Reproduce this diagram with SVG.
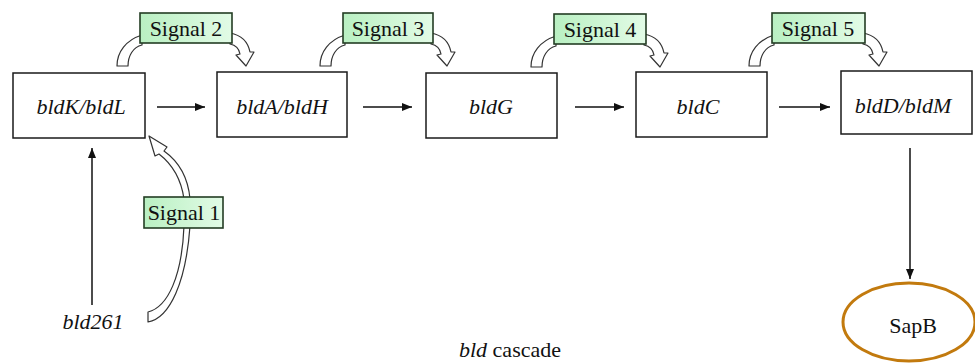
<svg xmlns="http://www.w3.org/2000/svg" xmlns:xlink="http://www.w3.org/1999/xlink" width="975" height="363" viewBox="0 0 975 363">
<style>
.box{fill:#fff;stroke:#1a1a1a;stroke-width:1.5}
.sig{fill:url(#sg);stroke:#243d24;stroke-width:1.6}
text{font-family:'Times New Roman','Liberation Serif',Tinos,'Noto Serif','DejaVu Serif',serif;font-size:22px;fill:#111}
.it{font-style:italic}
.band{fill:#fff;stroke:#333;stroke-width:1.2;stroke-linejoin:round}
.conn{stroke:#111;stroke-width:1.5;fill:none;marker-end:url(#ah)}
</style>
<defs>
<linearGradient id="sg" x1="0" y1="0" x2="1" y2="0">
<stop offset="0" stop-color="#b9f0c2"/>
<stop offset="1" stop-color="#e2fbe6"/>
</linearGradient>
<marker id="ah" viewBox="0 0 10 8" refX="10" refY="4" markerWidth="10" markerHeight="8" markerUnits="userSpaceOnUse" orient="auto">
<path d="M0,0 L10,4 L0,8 Z" fill="#111"/>
</marker>
<path id="tail" class="band" d="M-23,23 C-23,9 -14,-3 2,-8 L2,2 C-7,4 -12,13 -12,23 Z"/>
<path id="head" class="band" d="M-2,-10 C9,-8 16,-1 18,9 L22,9 L14,23 L4,12 L8,11 C7,5 3,2 -2,1 Z"/>
</defs>

<g id="connectors">
<line class="conn" x1="157" y1="107" x2="205" y2="107"/>
<line class="conn" x1="363" y1="107" x2="412" y2="107"/>
<line class="conn" x1="575" y1="107" x2="624" y2="107"/>
<line class="conn" x1="779" y1="107" x2="830" y2="107"/>
<line class="conn" x1="910" y1="148" x2="910" y2="279"/>
<line class="conn" x1="92" y1="305" x2="92" y2="148"/>
<use xlink:href="#tail" transform="translate(140,43)"/>
<use xlink:href="#head" transform="translate(232,43)"/>
<use xlink:href="#tail" transform="translate(343,43)"/>
<use xlink:href="#head" transform="translate(433,43)"/>
<use xlink:href="#tail" transform="translate(554,44)"/>
<use xlink:href="#head" transform="translate(646,44)"/>
<use xlink:href="#tail" transform="translate(772,43)"/>
<use xlink:href="#head" transform="translate(865,43)"/>
<path class="band" d="M148,322 C170,318 186,282 190,226 L184,226 C182,276 168,307 148,312 Z"/>
<path class="band" d="M190,199 C188,176 178,161 164,151 L167,147 L149,136 L155,156 L159,154 C172,164 181,178 184,199 Z"/>
</g>

<g id="bldKL"><rect class="box" x="13" y="73" width="132" height="65"/><text class="it" x="81" y="114" text-anchor="middle">bldK/bldL</text></g>
<g id="bldAH"><rect class="box" x="217" y="72" width="130" height="65"/><text class="it" x="282" y="114" text-anchor="middle">bldA/bldH</text></g>
<g id="bldG"><rect class="box" x="426" y="73" width="131" height="65"/><text class="it" x="491" y="114" text-anchor="middle">bldG</text></g>
<g id="bldC"><rect class="box" x="636" y="72" width="131" height="65"/><text class="it" x="698" y="114" text-anchor="middle">bldC</text></g>
<g id="bldDM"><rect class="box" x="841" y="71" width="131" height="63"/><text class="it" x="903" y="113" text-anchor="middle">bldD/bldM</text></g>

<g id="signal2"><rect class="sig" x="140" y="13" width="92" height="30"/><text x="186" y="36" text-anchor="middle">Signal 2</text></g>
<g id="signal3"><rect class="sig" x="343" y="13" width="90" height="30"/><text x="388" y="36" text-anchor="middle">Signal 3</text></g>
<g id="signal4"><rect class="sig" x="554" y="14" width="92" height="30"/><text x="600" y="37" text-anchor="middle">Signal 4</text></g>
<g id="signal5"><rect class="sig" x="772" y="13" width="93" height="30"/><text x="818" y="36" text-anchor="middle">Signal 5</text></g>
<g id="signal1"><rect class="sig" x="144" y="197" width="79" height="31"/><text x="184" y="220" text-anchor="middle">Signal 1</text></g>

<g id="bld261"><text class="it" x="93" y="329" text-anchor="middle">bld261</text></g>
<g id="SapB"><ellipse cx="909" cy="322" rx="66" ry="39" fill="#fff" stroke="#c27a0e" stroke-width="3"/><text x="913" y="333" text-anchor="middle">SapB</text></g>
<g id="caption"><text x="510" y="357" text-anchor="middle"><tspan class="it">bld</tspan> cascade</text></g>
</svg>
